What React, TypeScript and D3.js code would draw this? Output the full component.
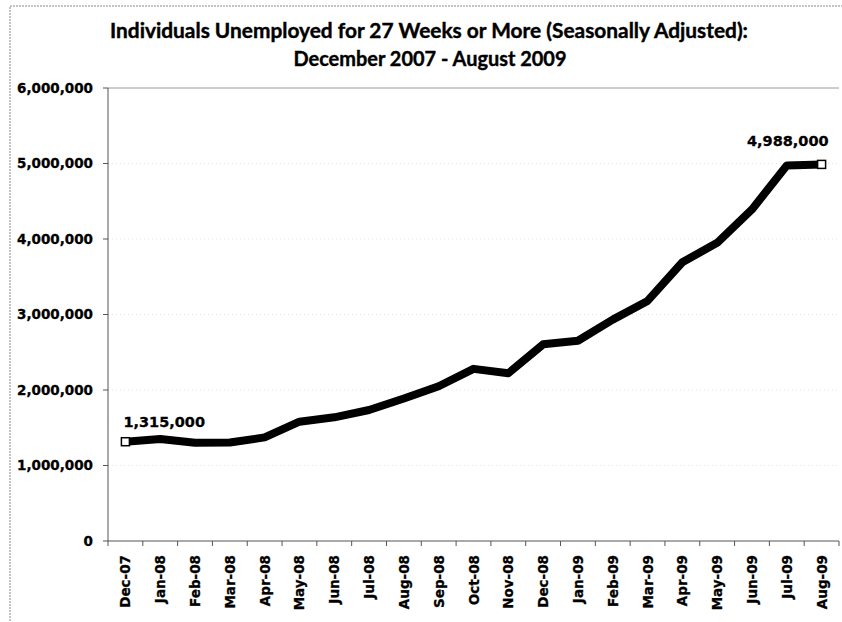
import React from "react";
import * as d3 from "d3";

const categories = [
  "Dec-07", "Jan-08", "Feb-08", "Mar-08", "Apr-08", "May-08", "Jun-08",
  "Jul-08", "Aug-08", "Sep-08", "Oct-08", "Nov-08", "Dec-08", "Jan-09",
  "Feb-09", "Mar-09", "Apr-09", "May-09", "Jun-09", "Jul-09", "Aug-09",
];

const values = [
  1315000, 1351000, 1302000, 1305000, 1372000, 1580000, 1638000,
  1735000, 1888000, 2050000, 2280000, 2222000, 2605000, 2652000,
  2932000, 3180000, 3692000, 3950000, 4392000, 4972000, 4988000,
];

const yTicks = [0, 1000000, 2000000, 3000000, 4000000, 5000000, 6000000];

const titleLines = [
  "Individuals Unemployed for 27 Weeks or More (Seasonally Adjusted):",
  "December 2007 - August 2009",
];

const labelled = [0, values.length - 1];

export default function App() {
  const W = 842;
  const H = 622;
  const left = 108;
  const right = 839;
  const top = 88;
  const bottom = 541;

  const x = d3.scaleBand<string>().domain(categories).range([left, right]);
  const y = d3.scaleLinear().domain([0, 6000000]).range([bottom, top]);
  const cx = (c: string) => (x(c) as number) + x.bandwidth() / 2;

  const line = d3
    .line<number>()
    .x((_, i) => cx(categories[i]))
    .y((d) => y(d))
    .curve(d3.curveLinear);

  const fmt = d3.format(",");
  const boundaries = categories.map((c) => x(c) as number).concat([right]);

  return (
    <svg
      width={W}
      height={H}
      style={{ position: "absolute", left: 0, top: 0, background: "#fff" }}
    >
      <rect x={10} y={6} width={840} height={630} fill="#fff" stroke="#888" strokeWidth={1} strokeDasharray="2,1" />

      {/* title */}
      <text x={429} y={38} textAnchor="middle" fontFamily="Lato, 'Open Sans', sans-serif" fontWeight={700} fontSize={20.5} textLength={638} lengthAdjust="spacingAndGlyphs" fill="#000" stroke="#000" strokeWidth={0.4}>
        {titleLines[0]}
      </text>
      <text x={430} y={66} textAnchor="middle" fontFamily="Lato, 'Open Sans', sans-serif" fontWeight={700} fontSize={20.5} textLength={273} lengthAdjust="spacingAndGlyphs" fill="#000" stroke="#000" strokeWidth={0.4}>
        {titleLines[1]}
      </text>

      {/* gridlines */}
      {yTicks.filter((t) => t > 0).map((t) => (
        <line key={"g" + t} x1={left} x2={right} y1={y(t)} y2={y(t)}
          stroke={t === 6000000 ? "#9a9a9a" : "#e2e2e2"} strokeWidth={1}
          strokeDasharray={t === 6000000 ? "none" : "1,3"} />
      ))}

      {/* y axis */}
      <line x1={left} x2={left} y1={top} y2={bottom} stroke="#555" strokeWidth={1} />
      {yTicks.map((t) => (
        <g key={"y" + t}>
          <line x1={left - 5} x2={left} y1={y(t)} y2={y(t)} stroke="#555" strokeWidth={1} />
          <text x={93} y={y(t)} dy="0.36em" textAnchor="end" fontFamily="'DejaVu Sans', sans-serif" fontWeight={700} fontSize={13.5} fill="#000" stroke="#000" strokeWidth={0.3}>
            {fmt(t)}
          </text>
        </g>
      ))}

      {/* x axis */}
      <line x1={left} x2={right} y1={bottom} y2={bottom} stroke="#555" strokeWidth={1} />
      {boundaries.map((b, i) => (
        <line key={"xt" + i} x1={b} x2={b} y1={bottom} y2={bottom + 5} stroke="#555" strokeWidth={1} />
      ))}
      {categories.map((c) => (
        <text key={c} transform={`translate(${cx(c) + 5},${bottom + 14}) rotate(-90)`} textAnchor="end" fontFamily="'DejaVu Sans', sans-serif" fontWeight={700} fontSize={13.5} fill="#000" stroke="#000" strokeWidth={0.3}>
          {c}
        </text>
      ))}

      {/* series line */}
      <path d={line(values) || ""} fill="none" stroke="#000" strokeWidth={8} strokeLinejoin="round" strokeLinecap="butt" />

      {/* markers + labels */}
      {labelled.map((i) => {
        const px = cx(categories[i]);
        const py = y(values[i]);
        const first = i === 0;
        return (
          <g key={"m" + i}>
            <rect x={px - 4} y={py - 4} width={8} height={8} fill="#fff" stroke="#000" strokeWidth={1.5} />
            <text x={first ? px - 2 : px + 7} y={py + (first ? -15 : -18)} textAnchor={first ? "start" : "end"} fontFamily="'DejaVu Sans', sans-serif" fontWeight={700} fontSize={14.5} fill="#000" stroke="#000" strokeWidth={0.3}>
              {fmt(values[i])}
            </text>
          </g>
        );
      })}
    </svg>
  );
}
